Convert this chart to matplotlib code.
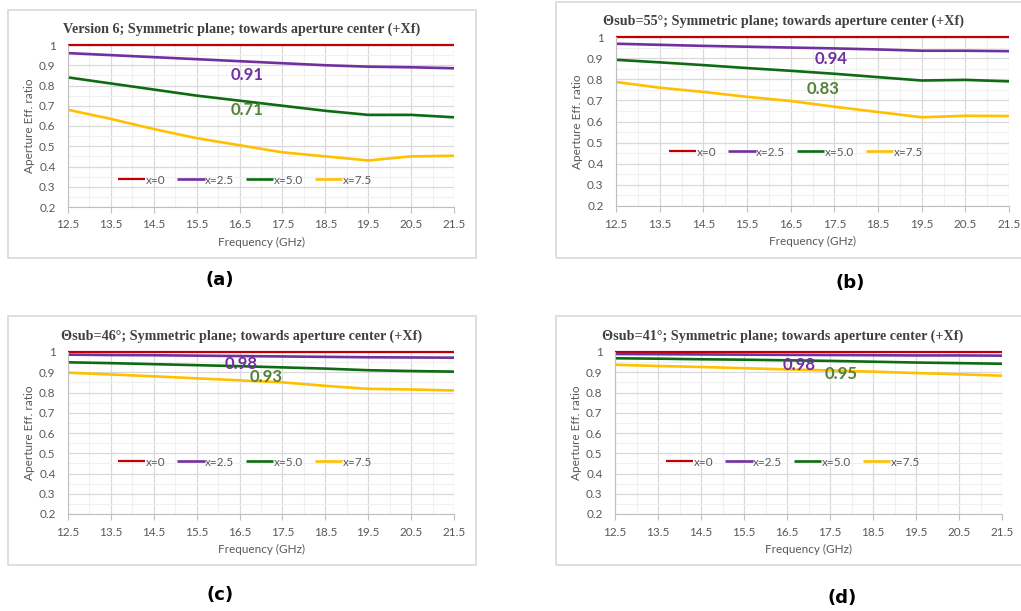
import matplotlib
matplotlib.use('Agg')
import matplotlib.pyplot as plt
from matplotlib.patches import Rectangle
from matplotlib.ticker import MultipleLocator

# frequency points (GHz)
freq = [12.5, 13.5, 14.5, 15.5, 16.5, 17.5, 18.5, 19.5, 20.5, 21.5]
series_names = ['x=0', 'x=2.5', 'x=5.0', 'x=7.5']

# (a) Version 6
a_x0 = [1.0, 1.0, 1.0, 1.0, 1.0, 1.0, 1.0, 1.0, 1.0, 1.0]
a_x25 = [0.96, 0.95, 0.94, 0.93, 0.92, 0.91, 0.90, 0.893, 0.89, 0.885]
a_x50 = [0.84, 0.81, 0.78, 0.75, 0.725, 0.70, 0.675, 0.655, 0.655, 0.643]
a_x75 = [0.68, 0.635, 0.585, 0.54, 0.505, 0.47, 0.45, 0.43, 0.45, 0.453]

# (b) theta sub = 55
b_x0 = [1.0, 1.0, 1.0, 1.0, 1.0, 1.0, 1.0, 1.0, 1.0, 1.0]
b_x25 = [0.968, 0.963, 0.958, 0.954, 0.95, 0.946, 0.941, 0.935, 0.935, 0.933]
b_x50 = [0.892, 0.88, 0.867, 0.853, 0.84, 0.826, 0.81, 0.794, 0.797, 0.79]
b_x75 = [0.787, 0.76, 0.74, 0.717, 0.697, 0.67, 0.645, 0.62, 0.627, 0.626]

# (c) theta sub = 46
c_x0 = [1.0, 1.0, 1.0, 1.0, 1.0, 1.0, 1.0, 1.0, 1.0, 1.0]
c_x25 = [0.987, 0.985, 0.984, 0.982, 0.98, 0.978, 0.976, 0.974, 0.973, 0.972]
c_x50 = [0.949, 0.945, 0.94, 0.935, 0.93, 0.924, 0.918, 0.91, 0.906, 0.903]
c_x75 = [0.898, 0.889, 0.88, 0.87, 0.86, 0.85, 0.833, 0.818, 0.815, 0.81]

# (d) theta sub = 41
d_x0 = [1.0, 1.0, 1.0, 1.0, 1.0, 1.0, 1.0, 1.0, 1.0, 1.0]
d_x25 = [0.99, 0.989, 0.988, 0.987, 0.986, 0.985, 0.984, 0.983, 0.983, 0.982]
d_x50 = [0.969, 0.967, 0.964, 0.962, 0.959, 0.956, 0.952, 0.948, 0.945, 0.942]
d_x75 = [0.937, 0.931, 0.926, 0.92, 0.914, 0.909, 0.903, 0.896, 0.89, 0.883]

titles = ['Version 6; Symmetric plane; towards aperture center (+Xf)',
          'Θsub=55°; Symmetric plane; towards aperture center (+Xf)',
          'Θsub=46°; Symmetric plane; towards aperture center (+Xf)',
          'Θsub=41°; Symmetric plane; towards aperture center (+Xf)']
panel_tags = ['(a)', '(b)', '(c)', '(d)']
# annotated values: (text for purple, text for green)
note_25 = ['0.91', '0.94', '0.98', '0.98']
note_50 = ['0.71', '0.83', '0.93', '0.95']

line_colors = ['#C00000', '#7030A0', '#0E6B12', '#FFC000']
gray = '#595959'

W, H = 1021, 611
fig = plt.figure(figsize=(W / 100, H / 100), dpi=100)

# pixel layouts: axes box, outer frame, title y, tag pos, legend pos, note positions
axes_px = [(68, 45, 454, 207), (616, 37, 1009, 206), (68, 352, 454, 514), (615, 352, 1002, 514)]
frame_px = [(8, 10, 476, 258), (556, 2, 1030, 258), (8, 316, 476, 565), (556, 316, 1030, 565)]
title_x = [242, 783, 242, 783]
title_y = [29, 21, 336, 336]
tag_xy = [(220, 280), (850, 283), (220, 595), (842, 598)]
legend_xy = [(245, 180), (796, 152), (245, 462), (793, 462)]
note25_xy = [(16.67, 0.852), (17.43, 0.895), (16.53, 0.943), (16.78, 0.937)]
note50_xy = [(16.67, 0.68), (17.24, 0.756), (17.13, 0.877), (17.76, 0.893)]

data = [(a_x0, a_x25, a_x50, a_x75), (b_x0, b_x25, b_x50, b_x75),
        (c_x0, c_x25, c_x50, c_x75), (d_x0, d_x25, d_x50, d_x75)]

for k in range(4):
    # outer frame of each excel chart
    fx0, fy0, fx1, fy1 = frame_px[k]
    fig.patches.append(Rectangle((fx0 / W, 1 - fy1 / H), (fx1 - fx0) / W, (fy1 - fy0) / H,
                                 transform=fig.transFigure, fill=False,
                                 edgecolor='#d9d9d9', linewidth=1.2))
    x0, y0, x1, y1 = axes_px[k]
    ax = fig.add_axes([x0 / W, 1 - y1 / H, (x1 - x0) / W, (y1 - y0) / H])

    lines = []
    for j in range(4):
        lw = 1.6 if j == 0 else 1.9
        ln, = ax.plot(freq, data[k][j], color=line_colors[j], linewidth=lw,
                      label=series_names[j], solid_capstyle='butt', clip_on=False)
        lines.append(ln)

    ax.set_xlim(12.5, 21.5)
    ax.set_ylim(0.2, 1.0)
    ax.xaxis.set_minor_locator(MultipleLocator(0.5))
    ax.yaxis.set_minor_locator(MultipleLocator(0.05))
    ax.set_xticks(freq)
    ax.set_xticklabels([str(f) for f in freq])
    ax.set_yticks([0.2, 0.3, 0.4, 0.5, 0.6, 0.7, 0.8, 0.9, 1.0])
    ax.set_yticklabels(['0.2', '0.3', '0.4', '0.5', '0.6', '0.7', '0.8', '0.9', '1'])
    ax.grid(which='major', color='#d9d9d9', linewidth=0.9)
    ax.grid(which='minor', color='#f0f0f0', linewidth=0.8)
    ax.set_axisbelow(True)
    for s in ['top', 'right']:
        ax.spines[s].set_visible(False)
    ax.spines['left'].set_color('#bfbfbf')
    ax.spines['bottom'].set_color('#bfbfbf')
    ax.tick_params(axis='x', which='major', length=4, color='#bfbfbf', labelsize=8.5,
                   labelcolor=gray, pad=5)
    ax.tick_params(axis='x', which='minor', length=0)
    ax.tick_params(axis='y', which='both', length=0, labelsize=8.5, labelcolor=gray, pad=9)
    for t in ax.get_xticklabels() + ax.get_yticklabels():
        t.set_family('Lato')
    ax.set_xlabel('Frequency (GHz)', fontsize=8.5, color=gray, family='Lato', labelpad=5)
    ax.set_ylabel('Aperture Eff. ratio', fontsize=8.5, color=gray, family='Lato', labelpad=3)

    # value notes
    ax.text(note25_xy[k][0], note25_xy[k][1], note_25[k], color='#7030A0', fontsize=12,
            fontweight='bold', family='Lato', ha='center', va='center')
    ax.text(note50_xy[k][0], note50_xy[k][1], note_50[k], color='#548235', fontsize=12,
            fontweight='bold', family='Lato', ha='center', va='center')

    lx, ly = legend_xy[k]
    ax.legend(handles=lines, loc='center', bbox_to_anchor=(lx / W, 1 - ly / H),
              bbox_transform=fig.transFigure, ncol=4, frameon=False,
              prop={'family': 'Lato', 'size': 8.5}, labelcolor=gray,
              handlelength=2.3, handletextpad=0.05, columnspacing=1.0, borderpad=0)

    # title centred on the frame
    fig.text(title_x[k] / W, 1 - title_y[k] / H, titles[k], ha='center', va='center',
             family='Liberation Serif', fontweight='bold', fontsize=10.2, color='#404040')
    fig.text(tag_xy[k][0] / W, 1 - tag_xy[k][1] / H, panel_tags[k], ha='center', va='center',
             fontsize=13, fontweight='bold', color='black')

plt.savefig('out.png', dpi=100)
